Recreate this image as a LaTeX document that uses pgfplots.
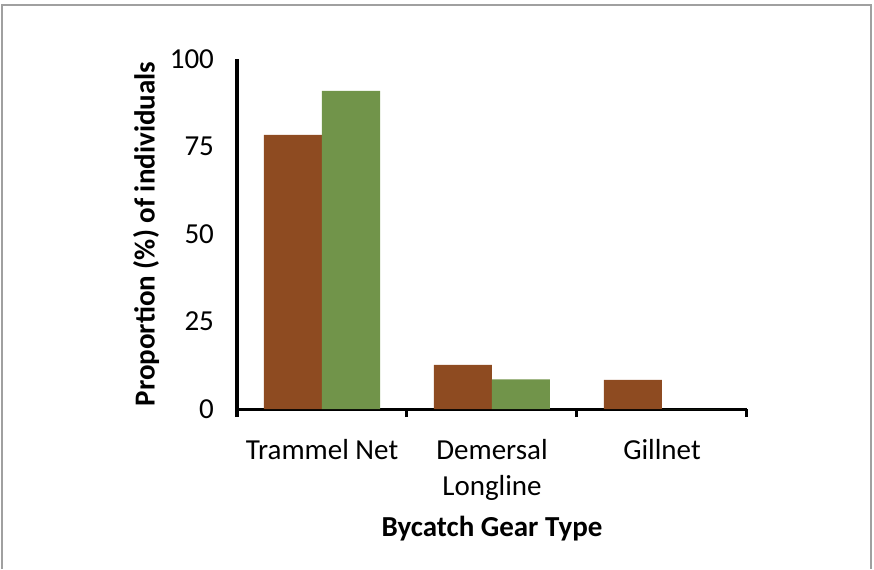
\documentclass[border=0pt]{standalone}
\usepackage{pgfplots}
\pgfplotsset{compat=1.18}
\usepackage{fontspec}
\setmainfont{Carlito}
\definecolor{cbrown}{HTML}{8E4B21}
\definecolor{cgreen}{HTML}{71944A}
\definecolor{frame}{HTML}{A0A0A0}
\begin{document}
\begin{tikzpicture}
\useasboundingbox (0,0) rectangle (437pt,284.5pt);
\draw[frame, line width=1pt] (1pt,0) -- (1pt,282pt) -- (435.5pt,282pt) -- (435.5pt,0);
\begin{axis}[
  at={(118.5pt,80pt)}, anchor=south west,
  scale only axis, width=255pt, height=175pt,
  xmin=-0.5, xmax=2.5, ymin=0, ymax=100,
  axis x line=bottom, axis y line=left,
  axis line style={line width=1.5pt, -},
  ybar=0pt, bar width=29pt,
  xtick={0,1,2},
  xticklabels={Trammel Net,{Demersal\\Longline},Gillnet},
  xticklabel style={align=center, font=\fontsize{14.5}{18}\selectfont, yshift=-11.5pt},
  minor xtick={-0.5,0.5,1.5,2.5},
  major tick length=0pt, minor tick length=4pt,
  tick align=outside,
  minor tick style={line width=1.5pt, black},
  ytick={0,25,50,75,100},
  yticklabel style={font=\fontsize{14.5}{16}\selectfont, xshift=-8pt},
  /pgf/number format/assume math mode=true,
  xlabel={\textbf{Bycatch Gear Type}},
  ylabel={\textbf{Proportion (\%) of individuals}},
  xlabel style={font=\fontsize{14.5}{16}\selectfont, yshift=-1pt},
  ylabel style={font=\fontsize{14.5}{16}\selectfont, yshift=-1.5pt},
  clip=false,
]
\addplot[fill=cbrown, draw=none] coordinates {(0,78.3) (1,12.6) (2,8.3)};
\addplot[fill=cgreen, draw=none] coordinates {(0,90.9) (1,8.5) (2,0)};
\end{axis}
\end{tikzpicture}
\end{document}
